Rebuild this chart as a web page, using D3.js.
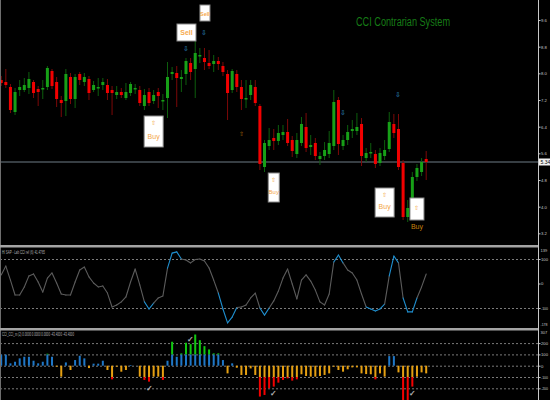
<!DOCTYPE html>
<html>
<head>
<meta charset="utf-8">
<script src="https://cdn.jsdelivr.net/npm/d3@7"></script>
<style>
html, body { margin: 0; padding: 0; background: #000; }
svg { display: block; }
text { font-family: "Liberation Sans", Arial, sans-serif; }
</style>
</head>
<body>
<svg id="chart" width="550" height="400"></svg>
<script>
// price bars, one per session (oldest first)
const openP = [7.80,7.74,7.59,6.84,7.50,7.50,7.56,7.74,7.53,7.53,
  7.59,8.07,7.74,7.20,7.17,7.89,7.23,7.98,7.74,7.83,
  7.50,7.56,7.65,7.65,7.50,7.35,7.44,7.26,7.41,7.53,
  7.50,7.02,7.44,7.17,7.44,7.17,7.26,7.98,8.01,7.83,
  7.98,8.31,8.13,8.52,8.46,8.31,8.28,8.37,8.22,7.98,
  7.50,7.98,7.59,7.23,7.35,7.59,7.02,5.19,5.82,6.06,
  5.97,6.15,6.24,6.00,5.58,5.91,6.39,5.79,5.91,5.43,
  5.52,5.58,5.82,7.20,5.82,6.00,6.27,6.27,6.48,5.46,
  5.61,5.58,5.31,5.52,5.73,6.48,6.33,5.31,3.69,3.96,
  4.89,5.04,5.43];
const highP = [7.92,8.13,7.68,7.56,7.80,7.86,8.04,7.80,7.62,7.80,
  8.22,8.13,7.89,7.32,8.13,8.01,7.98,8.04,8.01,7.92,
  7.77,7.86,7.86,7.83,7.62,7.62,7.56,7.71,7.74,7.68,
  7.62,7.53,7.56,7.50,7.56,7.38,8.34,8.19,8.22,8.10,
  8.46,8.46,9.09,8.76,8.76,8.70,8.55,8.49,8.34,8.10,
  8.13,8.10,7.80,7.80,7.80,7.80,7.08,6.00,6.36,6.33,
  6.45,6.45,6.63,6.12,6.21,6.69,6.81,6.15,6.06,5.64,
  5.94,6.27,7.50,7.29,6.15,6.45,6.60,6.81,6.66,5.76,
  5.91,5.70,5.76,6.00,6.84,6.78,6.78,5.40,4.20,5.04,
  5.28,5.46,5.67];
const lowP = [7.62,7.56,6.81,6.75,7.32,7.44,7.38,7.26,7.02,7.23,
  7.50,7.53,6.99,6.69,6.72,7.08,6.96,7.65,7.62,7.20,
  7.44,7.32,7.50,7.20,6.75,7.23,7.26,7.20,7.32,7.38,
  7.02,6.90,7.02,7.08,6.96,6.90,6.66,7.80,6.99,7.44,
  7.65,7.80,7.26,8.31,8.10,8.13,8.04,8.10,7.92,6.60,
  7.41,7.44,6.90,6.96,7.20,7.02,5.10,5.04,5.70,5.70,
  5.85,6.00,5.82,5.49,5.46,5.82,5.64,5.55,5.40,5.25,
  5.40,5.46,5.70,5.55,5.70,5.85,6.06,6.15,5.22,5.34,
  5.46,5.16,5.22,5.40,5.64,6.06,5.10,3.60,3.54,3.84,
  4.77,4.92,4.80];
const closeP = [7.71,7.65,6.90,7.44,7.59,7.65,7.83,7.41,7.44,7.56,
  8.16,7.62,7.23,7.11,7.98,7.23,7.89,7.80,7.89,7.41,
  7.65,7.59,7.74,7.41,7.41,7.44,7.35,7.44,7.68,7.56,
  7.11,7.35,7.11,7.35,7.32,7.20,7.89,8.04,7.86,7.89,
  8.37,8.04,8.61,8.55,8.34,8.22,8.37,8.28,8.04,7.41,
  8.07,7.59,7.23,7.26,7.65,7.11,5.28,5.91,6.00,5.97,
  6.21,6.24,5.91,5.67,6.00,6.48,5.76,5.85,5.52,5.52,
  5.70,5.91,7.14,5.88,6.00,6.24,6.33,6.39,5.52,5.61,
  5.64,5.28,5.61,5.70,6.54,6.21,5.19,3.69,3.96,4.89,
  5.16,5.34,5.34];

// CCI line values
const cciVals = [35,71,14,-47,-47,-14,31,39,6,-35,
  22,43,2,-43,-47,-47,6,55,67,27,
  2,-14,-10,-39,-96,-88,-75,-55,6,59,
  -6,-75,-104,-80,-59,-51,63,124,129,100,
  96,84,98,100,92,63,14,-39,-104,-161,
  -137,-98,-96,-88,-59,-39,-100,-129,-100,-71,
  -31,22,59,-2,-63,14,35,10,-27,-75,
  -88,-43,88,116,84,55,43,14,-43,-96,
  -104,-112,-104,-84,31,112,84,-59,-116,-116,
  -59,-14,39];

// CCI histogram values
const histVals = [98,98,21,35,65,79,79,44,21,35,
  106,79,-9,-97,29,-38,50,88,65,-21,
  18,18,44,-38,-121,-9,-53,-38,6,0,
  -97,-126,-141,-97,-97,-126,44,212,79,109,
  203,191,276,226,173,144,109,109,50,-68,
  21,-18,-82,-82,-24,-82,-273,-259,-200,-185,
  -150,-126,-112,-132,-121,-76,-91,-97,-97,-91,
  -82,-68,-9,-38,-53,-32,-15,-15,-68,-74,
  -76,-121,-68,-97,85,85,-59,-320,-320,-185,
  -97,-59,-68];

// axis ticks
const priceTicks = [9.6, 8.8, 8.0, 7.2, 6.4, 5.6, 4.8, 4.0, 3.2];
const cciLevels = [100, -100];
const histLevels = [200, 100, 0, -100, -200];

// signals: bar index and price level of the label box top
const sellIdx = [40, 44];
const sellLevel = [9.48, 10.05];
const buyIdx = [33, 59, 83, 90];
const buyLevel = [6.72, 5.01, 4.56, 4.26];
const peakIdx = [40, 44, 74, 86];
const peakLevel = [8.76, 9.24, 6.84, 7.38];
const dipIdx = [52];
const dipLevel = [6.21];
const checkIdx = [32, 41, 59, 89];

const svg = d3.select("#chart");
svg.append("rect").attr("width", 550).attr("height", 400).attr("fill", "#000");

const idx = d3.range(openP.length);
const x = d3.scaleLinear().domain([0, openP.length - 1]).range([1.2, 426.2]);
const yP = d3.scaleLinear().domain([10.2, 2.82]).range([0, 246]);
const yC = d3.scaleLinear().domain([100, -100]).range([259, 308]);
const yH = d3.scaleLinear().domain([100, -100]).range([354.4, 377]);

const defs = svg.append("defs");
defs.append("clipPath").attr("id", "cMain").append("rect")
  .attr("x", 0).attr("y", 0).attr("width", 538).attr("height", 245);
defs.append("clipPath").attr("id", "cCci").append("rect")
  .attr("x", 0).attr("y", 248).attr("width", 538).attr("height", 80);
defs.append("clipPath").attr("id", "cHist").append("rect")
  .attr("x", 0).attr("y", 331).attr("width", 538).attr("height", 69);

// ---------- main panel
const main = svg.append("g").attr("clip-path", "url(#cMain)");
const last = openP.length - 1;

main.append("line")
  .attr("x1", 0).attr("x2", 538)
  .attr("y1", yP(closeP[last])).attr("y2", yP(closeP[last]))
  .attr("stroke", "#4a535a").attr("stroke-width", 1.6);

const up = i => closeP[i] >= openP[i];

main.selectAll("line.wick").data(idx).join("line")
  .attr("class", "wick")
  .attr("x1", i => x(i)).attr("x2", i => x(i))
  .attr("y1", i => yP(highP[i])).attr("y2", i => yP(lowP[i]))
  .attr("stroke", i => up(i) ? "#0d5e0d" : "#7c0808")
  .attr("stroke-width", 1);

main.selectAll("rect.body").data(idx).join("rect")
  .attr("class", "body")
  .attr("x", i => x(i) - 1.5).attr("width", 3)
  .attr("y", i => yP(Math.max(openP[i], closeP[i])))
  .attr("height", i => Math.max(1.5, Math.abs(yP(openP[i]) - yP(closeP[i]))))
  .attr("fill", i => up(i) ? "#17a017" : "#f20000");

main.append("text")
  .attr("x", 356).attr("y", 26)
  .attr("textLength", 94).attr("lengthAdjust", "spacingAndGlyphs")
  .attr("font-size", 12).attr("fill", "#167c16")
  .text("CCI Contrarian System");

// small arrows above tops and below dips
main.selectAll("text.peak").data(peakIdx).join("text")
  .attr("class", "peak")
  .attr("x", i => x(i)).attr("y", (i, k) => yP(peakLevel[k]) + 2.5)
  .attr("text-anchor", "middle").attr("font-size", 6.5)
  .attr("font-family", "DejaVu Sans").attr("fill", "#2f8fcc")
  .text("\u21E9");
main.selectAll("text.dip").data(dipIdx).join("text")
  .attr("class", "dip")
  .attr("x", i => x(i)).attr("y", (i, k) => yP(dipLevel[k]) + 2.5)
  .attr("text-anchor", "middle").attr("font-size", 6)
  .attr("font-family", "DejaVu Sans").attr("fill", "#a86c08")
  .text("\u21E7");

// sell boxes
const sellW = [19, 10], sellH = [17, 16];
const sellG = main.selectAll("g.sell").data(sellIdx).join("g").attr("class", "sell");
sellG.append("rect")
  .attr("x", (i, k) => x(i) - sellW[k] / 2 + 0.5).attr("y", (i, k) => yP(sellLevel[k]))
  .attr("width", (i, k) => sellW[k]).attr("height", (i, k) => sellH[k])
  .attr("fill", "#fff").attr("stroke", "#8a8a8a").attr("stroke-width", 1);
sellG.append("text")
  .attr("x", i => x(i) + 0.5).attr("y", (i, k) => yP(sellLevel[k]) + sellH[k] / 2 + 2.5)
  .attr("text-anchor", "middle").attr("font-size", (i, k) => k ? 5.5 : 7)
  .attr("font-weight", "bold").attr("fill", "#f6aa4e")
  .text("Sell");

// buy boxes
const buyW = [19, 11, 19, 14], buyH = [31, 29, 29, 22];
const buyG = main.selectAll("g.buy").data(buyIdx).join("g").attr("class", "buy");
buyG.append("rect")
  .attr("x", (i, k) => x(i) - buyW[k] / 2).attr("y", (i, k) => yP(buyLevel[k]))
  .attr("width", (i, k) => buyW[k]).attr("height", (i, k) => buyH[k])
  .attr("fill", "#fff").attr("stroke", "#8a8a8a").attr("stroke-width", 1);
buyG.append("text")
  .attr("x", i => x(i)).attr("y", (i, k) => yP(buyLevel[k]) + (k === 3 ? 12 : 9))
  .attr("text-anchor", "middle").attr("font-size", 6)
  .attr("font-family", "DejaVu Sans").attr("fill", "#f3a445")
  .text("\u21E7");
buyG.append("text")
  .attr("x", i => x(i)).attr("y", (i, k) => yP(buyLevel[k]) + (k === 3 ? buyH[k] + 9 : buyH[k] - 8))
  .attr("text-anchor", "middle").attr("font-size", (i, k) => k === 1 ? 6 : 7)
  .attr("fill", (i, k) => k === 3 ? "#c8820c" : "#f3a445")
  .text("Buy");

// ---------- CCI panel
const gC = svg.append("g").attr("clip-path", "url(#cCci)");
gC.selectAll("line.lvl").data(cciLevels).join("line")
  .attr("x1", 0).attr("x2", 538)
  .attr("y1", d => yC(d) + 0.5).attr("y2", d => yC(d) + 0.5)
  .attr("stroke", "#7a7a7a").attr("stroke-dasharray", "2,2");
gC.selectAll("line.seg").data(d3.pairs(idx)).join("line")
  .attr("class", "seg")
  .attr("x1", d => x(d[0])).attr("y1", d => yC(cciVals[d[0]]))
  .attr("x2", d => x(d[1])).attr("y2", d => yC(cciVals[d[1]]))
  .attr("stroke", d => Math.max(Math.abs(cciVals[d[0]]), Math.abs(cciVals[d[1]])) > 100 ? "#1f8fcf" : "#5c5c5c")
  .attr("stroke-width", 1.1).attr("stroke-linecap", "round");
gC.append("text").attr("x", 2).attr("y", 254)
  .attr("font-size", 4.5).attr("fill", "#b0b0b0")
  .attr("textLength", 43).attr("lengthAdjust", "spacingAndGlyphs")
  .text("HI SAP - Lab CCI ref (6) 41.4765");

// ---------- histogram panel
const gH = svg.append("g").attr("clip-path", "url(#cHist)");
gH.selectAll("line.lvl").data(histLevels).join("line")
  .attr("x1", 0).attr("x2", 538)
  .attr("y1", d => yH(d) + 0.5).attr("y2", d => yH(d) + 0.5)
  .attr("stroke", "#7a7a7a").attr("stroke-dasharray", "2,2");
const clamp = v => Math.max(-100, Math.min(100, v));
gH.selectAll("rect.core").data(idx).join("rect")
  .attr("class", "core")
  .attr("x", i => x(i) - 1).attr("width", 2)
  .attr("y", i => Math.min(yH(0), yH(clamp(histVals[i]))))
  .attr("height", i => Math.abs(yH(clamp(histVals[i])) - yH(0)))
  .attr("fill", i => histVals[i] >= 0 ? "#1f78c8" : "#e6a012");
gH.selectAll("rect.ext").data(idx.filter(i => Math.abs(histVals[i]) > 100)).join("rect")
  .attr("class", "ext")
  .attr("x", i => x(i) - 1).attr("width", 2)
  .attr("y", i => histVals[i] > 0 ? yH(histVals[i]) : yH(-100))
  .attr("height", i => Math.abs(yH(histVals[i]) - yH(histVals[i] > 0 ? 100 : -100)))
  .attr("fill", i => histVals[i] > 0 ? "#11c811" : "#f40000");
gH.selectAll("text.chk").data(checkIdx).join("text")
  .attr("class", "chk")
  .attr("x", i => x(i)).attr("y", i => histVals[i] > 0 ? yH(histVals[i]) - 2 : yH(histVals[i]) + 9)
  .attr("text-anchor", "middle").attr("font-size", 8)
  .attr("font-family", "DejaVu Sans").attr("fill", "#f2f2f2")
  .attr("stroke", "#777").attr("stroke-width", 0.3)
  .text("\u2713");
gH.append("text").attr("x", 2).attr("y", 336)
  .attr("font-size", 4.5).attr("fill", "#b0b0b0")
  .attr("textLength", 72).attr("lengthAdjust", "spacingAndGlyphs")
  .text("CCI_CCI_m (2) 0.0000 0.0000 0.0000 -43.4000 -43.4000");

// ---------- frame, separators, right axis
svg.append("line").attr("x1", 0.5).attr("x2", 0.5).attr("y1", 0).attr("y2", 400)
  .attr("stroke", "#6e6e6e");
svg.append("rect").attr("x", 0).attr("y", 245).attr("width", 538).attr("height", 2.5).attr("fill", "#a4a4a4");
svg.append("rect").attr("x", 0).attr("y", 328).attr("width", 538).attr("height", 2.5).attr("fill", "#a4a4a4");
svg.append("line").attr("x1", 538.5).attr("x2", 538.5).attr("y1", 0).attr("y2", 400)
  .attr("stroke", "#c8c8c8");

const fmtLvl = d => String(d);
function fitSmall(sel) {
  sel.each(function () {
    if (this.textContent.length > 3) {
      d3.select(this).attr("textLength", 7).attr("lengthAdjust", "spacingAndGlyphs");
    }
  });
}
function styleAxis(g) {
  g.select(".domain").remove();
  g.selectAll("line").attr("stroke", "#c8c8c8");
  g.selectAll("text").attr("fill", "#c8c8c8").attr("font-size", 4.2).attr("x", 2.5)
    .attr("font-family", "Liberation Sans, Arial, sans-serif")
    .call(fitSmall);
}
svg.append("g").attr("transform", "translate(538.5,0)")
  .call(d3.axisRight(yP).tickValues(priceTicks).tickSize(2).tickFormat(d3.format(".1f")))
  .call(styleAxis);
svg.append("g").attr("transform", "translate(538.5,0)")
  .call(d3.axisRight(yC).tickValues([100, 0, -100]).tickSize(2).tickFormat(fmtLvl))
  .call(styleAxis);
svg.append("g").attr("transform", "translate(538.5,0)")
  .call(d3.axisRight(yH).tickValues(histLevels).tickSize(2).tickFormat(fmtLvl))
  .call(styleAxis);

// panel range labels
const rangeLabels = [[251.5, yC.invert(249.5)], [326, yC.invert(327)], [334, yH.invert(331)]];
svg.selectAll("text.rng").data(rangeLabels).join("text")
  .attr("class", "rng")
  .attr("x", 540.5).attr("y", d => d[0])
  .attr("font-size", 4).attr("fill", "#c8c8c8")
  .text(d => String(Math.round(d[1])))
  .call(fitSmall);

// current price marker
const yLast = yP(closeP[last]);
svg.append("rect").attr("x", 539).attr("y", yLast - 3.5).attr("width", 11).attr("height", 7).attr("fill", "#f0f0f0");
svg.append("text").attr("x", 540.5).attr("y", yLast + 2)
  .attr("font-size", 5).attr("fill", "#000").text(closeP[last].toFixed(2));
</script>
</body>
</html>
